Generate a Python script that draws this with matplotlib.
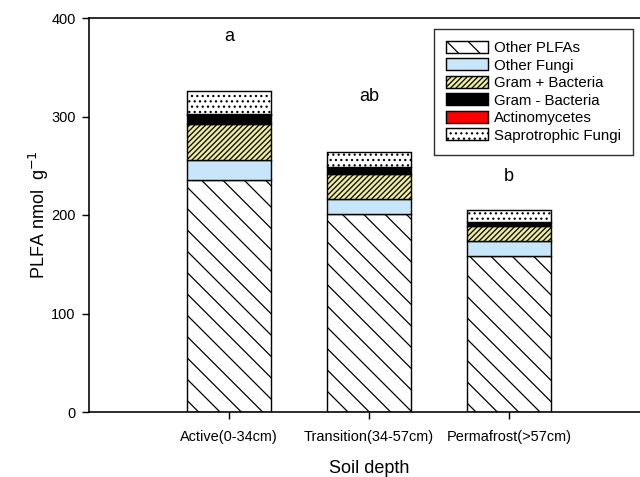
import numpy as np
import matplotlib
matplotlib.use('Agg')
import matplotlib.pyplot as plt

plt.rcParams['font.family'] = ['Liberation Sans', 'DejaVu Sans']
plt.rcParams['hatch.linewidth'] = 0.7

DPI = 128

def pt(px):
    return px * 72.0 / DPI

depths = ['Active(0-34cm)', 'Transition(34-57cm)', 'Permafrost(>57cm)']
groups = ['Other PLFAs', 'Other Fungi', 'Gram + Bacteria', 'Gram - Bacteria',
          'Actinomycetes', 'Saprotrophic Fungi']
other_plfas = [235.7, 201.0, 157.9]
other_fungi = [20.4, 15.3, 15.9]
gram_pos = [36.0, 25.5, 14.7]
gram_neg = [9.9, 6.8, 4.1]
actino = [0.3, 0.3, 0.3]
sapro = [23.2, 15.3, 12.6]
letters = ['a', 'ab', 'b']
letter_y = [381, 320, 239]

series = [other_plfas, other_fungi, gram_pos, gram_neg, actino, sapro]
styles = [
    dict(color='white', hatch='\\\\'),
    dict(color='#c8e6fa', hatch=None),
    dict(color='#eeea9e', hatch='////////'),
    dict(color='black', hatch=None),
    dict(color='#ff0000', hatch=None),
    dict(color='white', hatch='....'),
]

fig = plt.figure(figsize=(640 / DPI, 477 / DPI), dpi=DPI)
ax = fig.add_axes([89 / 640, 65 / 477, 560 / 640, 394 / 477])

x = np.arange(1, len(depths) + 1)
bottom = np.zeros(len(depths))
for name, vals, st in zip(groups, series, styles):
    ax.bar(x, vals, 0.6, bottom=bottom, color=st['color'], hatch=st['hatch'],
           edgecolor='black', linewidth=0.8, label=name)
    bottom += np.array(vals)

for xi, lab, yy in zip(x, letters, letter_y):
    ax.text(xi, yy, lab, ha='center', va='center', fontsize=pt(18))

ax.set_xlim(0, 4)
ax.set_ylim(0, 400)
ax.set_yticks([0, 100, 200, 300, 400])
ax.set_xticks(x)
ax.set_xticklabels(depths)
ax.tick_params(axis='both', direction='out', length=4, width=0.8,
               labelsize=pt(14.5), colors='black')
ax.tick_params(axis='x', pad=6)
ax.spines['right'].set_visible(False)
for s in ['left', 'bottom', 'top']:
    ax.spines[s].set_linewidth(0.9)

ax.set_ylabel('PLFA nmol  g$^{-1}$', fontsize=pt(18), labelpad=0)
ax.set_xlabel('Soil depth', fontsize=pt(18), labelpad=9)

leg = fig.legend(loc='upper right', bbox_to_anchor=(633 / 640, 1 - 29 / 477),
                 fontsize=pt(15), frameon=True, fancybox=False,
                 edgecolor='black', handlelength=2.8, handleheight=0.85,
                 labelspacing=0.22, handletextpad=0.4, borderpad=0.8,
                 borderaxespad=0)
leg.get_frame().set_linewidth(0.8)

fig.savefig('out.png', dpi=DPI)
